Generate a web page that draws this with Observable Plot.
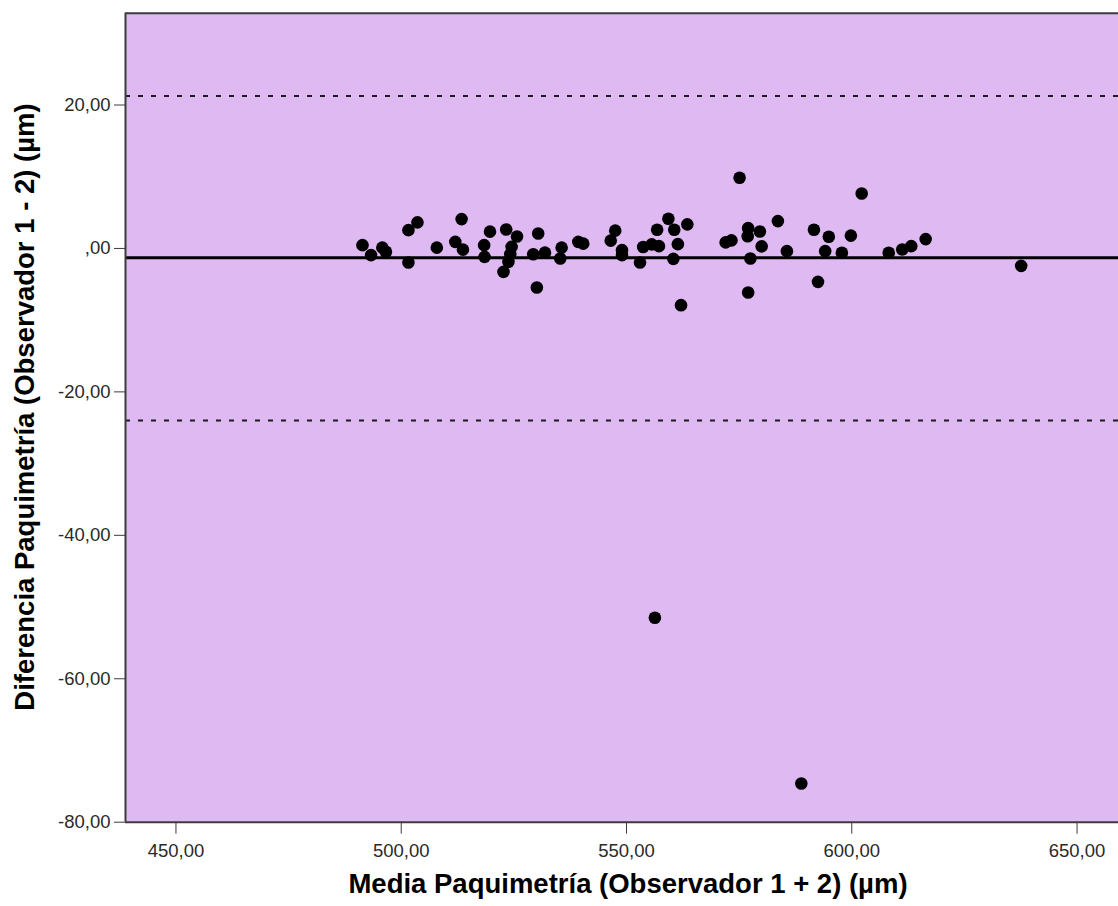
<!DOCTYPE html>
<html>
<head>
<meta charset="utf-8">
<script src="https://cdn.jsdelivr.net/npm/d3@7"></script>
<script src="https://cdn.jsdelivr.net/npm/@observablehq/plot@0.6"></script>
<style>
  html, body { margin: 0; padding: 0; background: #fff; }
  #chart { width: 1118px; height: 906px; }
</style>
</head>
<body>
<div id="chart"></div>
<script>
// Bland–Altman: mean of the two observers vs. their difference (µm)
const meanPaq = [491.4, 493.3, 495.8, 496.6, 501.6, 503.6, 501.6, 507.9, 513.4, 512.0,
  513.7, 519.7, 518.4, 518.5, 523.3, 525.7, 524.5, 524.2, 523.8, 522.7,
  530.4, 529.3, 531.9, 530.1, 535.6, 535.3, 539.3, 540.4, 546.5, 547.5,
  549.0, 549.0, 553.0, 553.7, 555.6, 557.2, 556.8, 559.3, 560.6, 561.4,
  560.4, 563.5, 562.1, 572.0, 573.3, 575.1, 577.0, 576.9, 579.6, 580.0,
  577.5, 577.0, 583.6, 585.6, 591.6, 594.9, 594.1, 597.8, 599.8, 592.5,
  602.2, 608.2, 611.2, 613.2, 616.4, 637.6, 556.3, 588.8];
const diffPaq = [0.46, -0.93, 0.11, -0.47, 2.55, 3.63, -1.95, 0.11, 4.09, 0.92,
  -0.17, 2.34, 0.46, -1.17, 2.65, 1.67, 0.22, -0.80, -1.87, -3.27,
  2.09, -0.80, -0.59, -5.44, 0.11, -1.40, 0.92, 0.67, 1.09, 2.48,
  -0.24, -0.93, -1.95, 0.21, 0.57, 0.32, 2.60, 4.13, 2.60, 0.60,
  -1.45, 3.36, -7.91, 0.84, 1.12, 9.85, 2.83, 1.69, 2.37, 0.29,
  -1.40, -6.14, 3.81, -0.38, 2.60, 1.62, -0.38, -0.61, 1.79, -4.66,
  7.67, -0.61, -0.14, 0.32, 1.30, -2.43, -51.5, -74.6];

// Mean difference and limits of agreement
const meanDiff = [-1.31];
const limits = [21.24, -24.0];

// Axes
const xDomain = [438.8, 659.2];
const yDomain = [-80, 32.8];
const xTicks = [450, 500, 550, 600, 650];
const yTicks = [-80, -60, -40, -20, 0, 20];
const xTitle = ["Media Paquimetría (Observador 1 + 2) (µm)"];
const yTitle = ["Diferencia Paquimetría (Observador 1 - 2) (µm)"];

const points = meanPaq.map((m, i) => ({media: m, diferencia: diffPaq[i]}));

// SPSS-style number format: comma decimal, no leading zero ("20,00", ",00")
const fmt = v => {
  const s = Math.abs(v).toFixed(2).replace(".", ",");
  const t = s.startsWith("0,") ? s.slice(1) : s;
  return (v < 0 ? "-" : "") + t;
};

const font = "'Liberation Sans', Arial, sans-serif";

const chart = Plot.plot({
  width: 1118,
  height: 906,
  marginLeft: 125,
  marginRight: 0,
  marginTop: 12.7,
  marginBottom: 84.3,
  style: {fontFamily: font, fontSize: "18.5px", color: "#2a2a2a", background: "#ffffff"},
  x: {domain: xDomain},
  y: {domain: yDomain},
  marks: [
    Plot.frame({fill: "#dfb9f2", stroke: "none"}),
    Plot.ruleY(limits, {stroke: "#1c1c1c", strokeWidth: 2, strokeDasharray: "5,8"}),
    Plot.ruleY(meanDiff, {stroke: "#000", strokeWidth: 3}),
    Plot.dot(points, {x: "media", y: "diferencia", r: 6.3, fill: "#000", stroke: "none"}),
    // plot-area border: left, top, bottom
    Plot.ruleX([xDomain[0]], {stroke: "#3c3c3c", strokeWidth: 2}),
    Plot.ruleY(yDomain, {stroke: "#3c3c3c", strokeWidth: 2}),
    Plot.axisX({ticks: xTicks, tickFormat: fmt, tickSize: 12, tickPadding: 10, label: null, stroke: "#3c3c3c"}),
    Plot.axisY({ticks: yTicks, tickFormat: fmt, tickSize: 11, tickPadding: 4, label: null, stroke: "#3c3c3c"}),
    Plot.text(xTitle, {frameAnchor: "bottom", textAnchor: "middle", dy: 70.7, dx: 6, fontSize: 27.5, fontWeight: "bold", fill: "#000"}),
    Plot.text(yTitle, {frameAnchor: "left", textAnchor: "middle", rotate: -90, dx: -100.6, dy: -10.7, fontSize: 27.5, fontWeight: "bold", fill: "#000"})
  ]
});

document.getElementById("chart").appendChild(chart);
</script>
</body>
</html>
